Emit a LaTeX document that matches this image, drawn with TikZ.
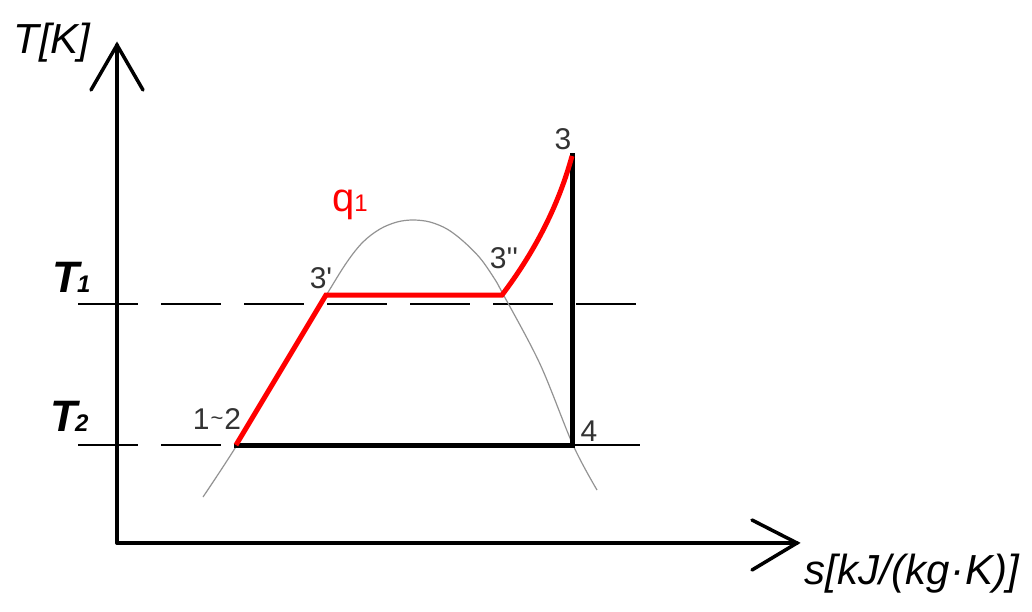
\documentclass[tikz,border=0pt]{standalone}
\usepackage{fontspec}
\setmainfont{Liberation Sans}
\begin{document}
\begin{tikzpicture}[x=1pt,y=-1pt,
  axis/.style={line width=3.5pt,line cap=round,line join=miter},
  thin/.style={line width=1.3pt,black},
  dome/.style={line width=1.2pt,color=gray!85},
  redline/.style={line width=5pt,color=red,line join=miter},
  blackline/.style={line width=5pt,black,line cap=rect},
  dashlevel/.style={thin,dash pattern=on 60pt off 23pt},
  lbl/.style={inner sep=0pt,text=black!80,font=\fontsize{30}{30}\selectfont},
  big/.style={inner sep=0pt,font=\fontsize{42}{42}\selectfont\itshape},
  tlab/.style={inner sep=0pt,font=\fontsize{44}{44}\selectfont\bfseries\itshape}]
\useasboundingbox (0,0) rectangle (1032,612);
% axes
\coordinate (O) at (117,543);
\coordinate (Ytip) at (117,45);
\coordinate (Xtip) at (797,543);
\coordinate (Yl) at (91,90);
\coordinate (Yr) at (143,90);
\coordinate (Xu) at (752,520);
\coordinate (Xd) at (752,570);
\draw[axis] (O) -- (Ytip);
\draw[axis] (O) -- (Xtip);
\draw[axis] (Yl) -- (Ytip) -- (Yr);
\draw[axis] (Xu) -- (Xtip) -- (Xd);
% level lines
\coordinate (T1s) at (78,304);
\coordinate (T1e) at (636,304);
\coordinate (T2s) at (78,445);
\coordinate (T2m) at (236,445);
\coordinate (T2r) at (573,445);
\coordinate (T2e) at (640,445);
\draw[dashlevel] (T1s) -- (T1e);
\draw[dashlevel] (T2s) -- (T2m);
\draw[thin] (T2r) -- (T2e);
% saturation dome
\draw[dome] plot[smooth,tension=0.55] coordinates {(203,497) (237,445) (282,369) (327,294) (347,262) (363,242) (380,229) (397,222) (413,220) (430,222) (447,229) (463,241) (480,258) (494,278) (503,294) (540,364) (573,445) (597,490)};
% cycle points
\coordinate (p12) at (236,445);
\coordinate (p3a) at (326,295);
\coordinate (p3b) at (502,295);
\coordinate (p3) at (572,156);
\coordinate (p4) at (572,445);
\draw[blackline] (p3) -- (p4) -- (p12);
\draw[redline,line cap=butt] (p12) -- (p3a) -- (p3b) .. controls (527,262) and (556,215) .. (p3);
% labels
\node[big] (TK) at (52,43) {T[K]};
\node[big] (sK) at (912,574) {s[kJ/(kg\kern1pt·\kern1pt K)]};
\node[tlab,anchor=base west] (T1) at (52,292) {T\kern-2pt\raisebox{0pt}{\fontsize{24}{24}\selectfont 1}};
\node[tlab,anchor=base west] (T2) at (50,431) {T\kern-2pt\raisebox{0pt}{\fontsize{24}{24}\selectfont 2}};
\node[lbl] (l12) at (217,419) {1\kern1pt\raisebox{4pt}{\fontsize{22}{22}\selectfont\textasciitilde}\kern1pt 2};
\node[lbl] (l3a) at (321,278) {3\textquotesingle};
\node[lbl] (l3b) at (504,258) {3\textquotesingle\textquotesingle};
\node[lbl] (l3) at (563,139) {3};
\node[lbl] (l4) at (589,431) {4};
\node[inner sep=0pt,text=red,font=\fontsize{40}{40}\selectfont,anchor=base west] (q1) at (332,212) {q\raisebox{0pt}{\fontsize{24}{24}\selectfont 1}};
\end{tikzpicture}
\end{document}
